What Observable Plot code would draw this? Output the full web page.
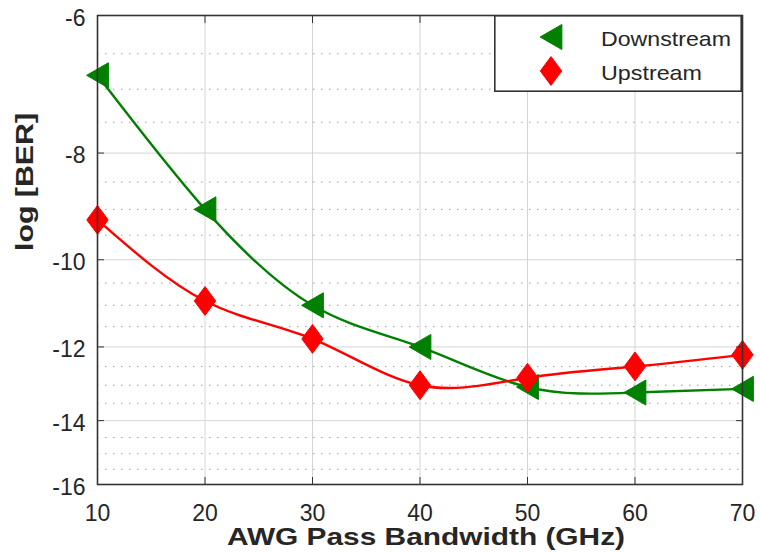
<!DOCTYPE html>
<html>
<head>
<meta charset="utf-8">
<script src="https://cdn.jsdelivr.net/npm/d3@7"></script>
<script src="https://cdn.jsdelivr.net/npm/@observablehq/plot@0.6"></script>
<style>
  body { margin: 0; background: #fff; }
  #chart { position: relative; width: 760px; height: 553px; font-family: "Liberation Sans", Arial, Helvetica, sans-serif; }
  #legend { position: absolute; left: 494px; top: 15px; }
</style>
</head>
<body>
<div id="chart"></div>
<script>
// AWG pass bandwidth (GHz) and measured log10(BER) per direction
const bandwidth = [10, 20, 30, 40, 50, 60, 70];
const downstream = [-6.8, -9.0, -11.0, -12.0, -13.05, -13.2, -13.1];
const upstream = [-9.2, -10.9, -11.8, -13.0, -12.8, -12.5, -12.2];

const xTicks = [10, 20, 30, 40, 50, 60, 70];
const yTicks = [-6, -8, -10, -12, -14, -16];
const yMinorTicks = [-6.5, -7, -7.5, -8.5, -9, -9.5, -10.5, -11, -11.5, -12.5, -13, -13.5, -14.5, -15, -15.5];

const seriesNames = ["Downstream", "Upstream"];
const seriesColors = ["#008000", "#ff0000"];
const xLabel = "AWG Pass Bandwidth (GHz)";
const yLabel = "log [BER]";

// The y axis is logarithmic in |log BER|, so values are negated before scaling.
const depth = v => -v;

// Left-pointing triangle and a tall diamond, sized from the symbol area.
const triangleLeft = {
  draw(ctx, size) {
    const k = Math.sqrt(size / Math.PI);
    const w = k * 1.17, h = k * 1.35;
    ctx.moveTo(-w, 0);
    ctx.lineTo(w, -h);
    ctx.lineTo(w, h);
    ctx.closePath();
  }
};
const tallDiamond = {
  draw(ctx, size) {
    const k = Math.sqrt(size / Math.PI);
    const w = k * 1.15, h = k * 1.55;
    ctx.moveTo(0, -h);
    ctx.lineTo(w, 0);
    ctx.lineTo(0, h);
    ctx.lineTo(-w, 0);
    ctx.closePath();
  }
};
const symbols = [triangleLeft, tallDiamond];

const downRows = bandwidth.map((bw, i) => ({bw, ber: downstream[i]}));
const upRows = bandwidth.map((bw, i) => ({bw, ber: upstream[i]}));

const axisColor = "#333333";
const fontFamily = '"Liberation Sans", Arial, Helvetica, sans-serif';

const chart = Plot.plot({
  width: 760,
  height: 553,
  marginLeft: 97,
  marginRight: 18,
  marginTop: 15,
  marginBottom: 69,
  style: {fontFamily, fontSize: "23px", color: "#262626", background: "#fff", overflow: "visible"},
  x: {domain: [10, 70]},
  y: {type: "log", domain: [6, 16], reverse: true},
  marks: [
    Plot.gridX(xTicks, {stroke: "#d4d4d4", strokeOpacity: 1, strokeWidth: 1}),
    Plot.gridY(yTicks.map(depth), {stroke: "#d4d4d4", strokeOpacity: 1, strokeWidth: 1}),
    Plot.ruleY(yMinorTicks.map(depth), {stroke: "#a0a0a0", strokeWidth: 1, strokeDasharray: "1.5,6.5"}),

    Plot.line(downRows, {x: "bw", y: d => depth(d.ber), curve: "natural", stroke: seriesColors[0], strokeWidth: 2.4}),
    Plot.dot(downRows, {x: "bw", y: d => depth(d.ber), symbol: symbols[0], r: 9.3, fill: seriesColors[0], stroke: seriesColors[0], strokeWidth: 1}),
    Plot.line(upRows, {x: "bw", y: d => depth(d.ber), curve: "natural", stroke: seriesColors[1], strokeWidth: 2.4}),
    Plot.dot(upRows, {x: "bw", y: d => depth(d.ber), symbol: symbols[1], r: 9.3, fill: seriesColors[1], stroke: seriesColors[1], strokeWidth: 1}),

    Plot.frame({stroke: axisColor, strokeWidth: 1.6}),

    // inward tick marks on all four sides
    Plot.axisX(xTicks, {anchor: "bottom", tickSize: -7, tickFormat: () => "", label: null, stroke: axisColor}),
    Plot.axisX(xTicks, {anchor: "top", tickSize: -7, tickFormat: () => "", label: null, stroke: axisColor}),
    Plot.axisY(yTicks.map(depth), {anchor: "left", tickSize: -7, tickFormat: () => "", label: null, stroke: axisColor}),
    Plot.axisY(yTicks.map(depth), {anchor: "right", tickSize: -7, tickFormat: () => "", label: null, stroke: axisColor}),

    // tick labels
    Plot.axisX(xTicks, {anchor: "bottom", tickSize: 0, tickPadding: 20, label: null, fill: "#262626"}),
    Plot.axisY(yTicks.map(depth), {anchor: "left", tickSize: 0, tickPadding: 12, dy: 3, tickFormat: d => String(-d), label: null, fill: "#262626"}),

    // axis titles
    Plot.text([xLabel], {text: d => d, frameAnchor: "bottom", lineAnchor: "middle", dx: 6, dy: 53, fontSize: 24, fontWeight: "bold", fill: "#262626"}),
    Plot.text([yLabel], {text: d => d, frameAnchor: "left", lineAnchor: "middle", dx: -72, dy: 1, rotate: -90, fontSize: 24, fontWeight: "bold", fill: "#262626"})
  ]
});

// The axis titles are set in a wide bold face: stretch them to their run length.
const titleLengths = new Map([[xLabel, 398], [yLabel, 138]]);
d3.select(chart).selectAll("text").each(function () {
  const len = titleLengths.get(this.textContent);
  if (len) d3.select(this).attr("textLength", len).attr("lengthAdjust", "spacingAndGlyphs");
});

const root = document.getElementById("chart");
root.appendChild(chart);

// Legend box in the upper-right corner of the axes
const lw = 248, lh = 77;
const legendLengths = [130, 101];
const legend = d3.create("svg")
  .attr("id", "legend")
  .attr("width", lw)
  .attr("height", lh)
  .style("font-family", fontFamily);
legend.append("rect")
  .attr("x", 0.8).attr("y", 0.8)
  .attr("width", lw - 1.6).attr("height", lh - 1.6)
  .attr("fill", "#fff").attr("stroke", axisColor).attr("stroke-width", 1.6);
const rowY = [22, 56];
seriesNames.forEach((name, i) => {
  legend.append("path")
    .attr("d", d3.symbol(symbols[i], Math.PI * 9.3 * 9.3)())
    .attr("transform", `translate(57,${rowY[i]})`)
    .attr("fill", seriesColors[i])
    .attr("stroke", seriesColors[i]);
  legend.append("text")
    .attr("x", 107)
    .attr("y", rowY[i] + 9)
    .attr("font-size", 21)
    .attr("textLength", legendLengths[i])
    .attr("lengthAdjust", "spacingAndGlyphs")
    .attr("fill", "#262626")
    .text(name);
});
root.appendChild(legend.node());
</script>
</body>
</html>
